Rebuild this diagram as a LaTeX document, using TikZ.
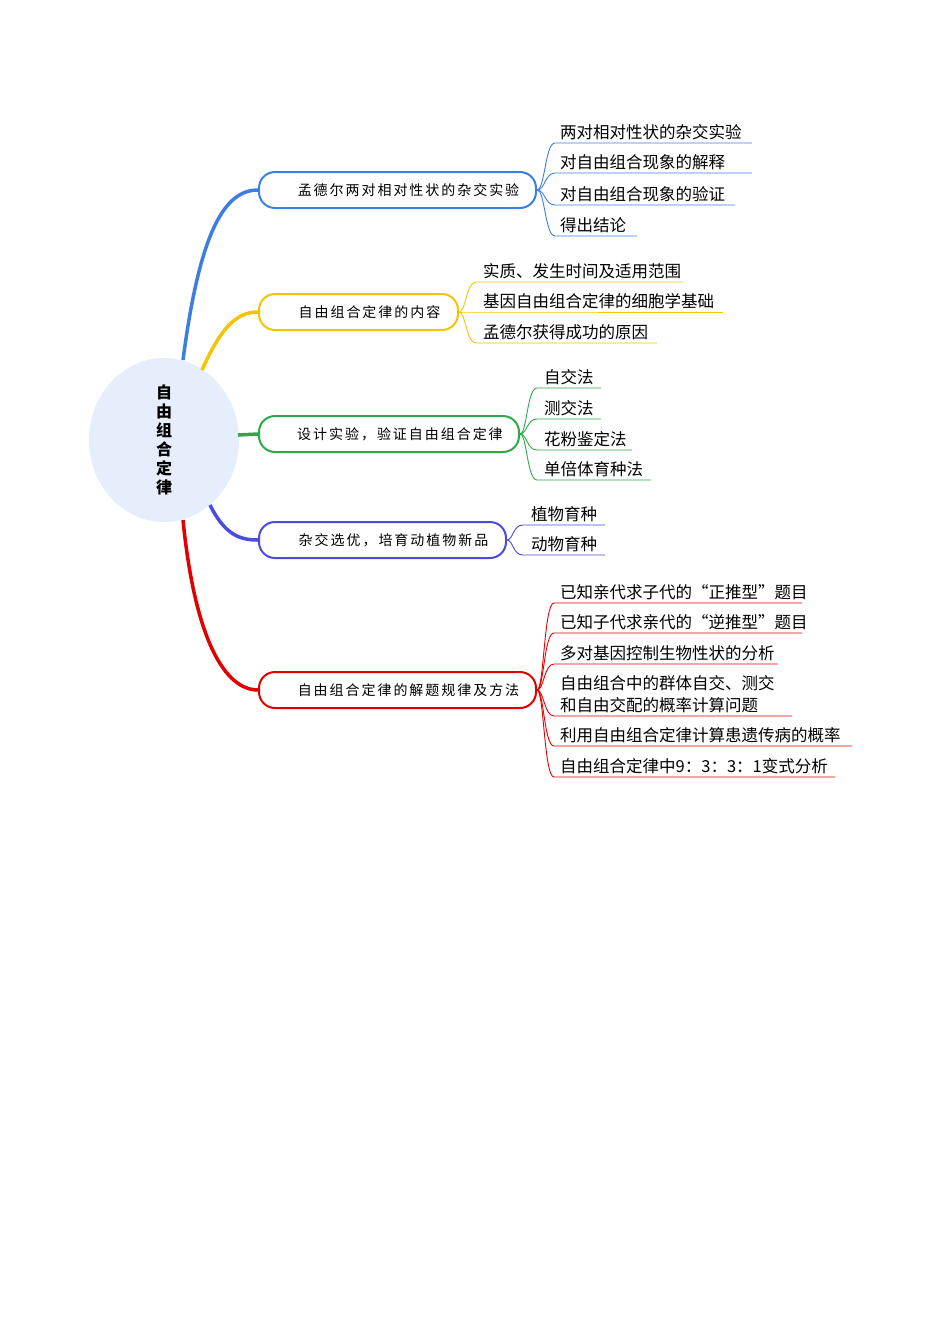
\documentclass[tikz,border=0pt]{standalone}
\usepackage{fontspec}
\usetikzlibrary{shapes.geometric}
\setmainfont{Noto Sans CJK SC}
\newfontfamily\boxfont[LetterSpace=14]{Noto Sans CJK SC}
\begin{document}
\begin{tikzpicture}[x=1pt,y=-1pt,
  br/.style={draw=#1,line width=2pt,rounded corners=16pt,minimum height=36pt,inner sep=0pt,anchor=west,font=\fontsize{14}{16}\boxfont},
  leaf/.style={anchor=west,inner sep=0pt,font=\fontsize{16.5}{22}\selectfont,align=left},
  main/.style={draw=#1,line width=3.5pt},
  sub/.style={draw=#1,line width=0.9pt}]
\useasboundingbox (0,0) rectangle (950,1344);
\definecolor{cb}{HTML}{3C7FE0}\definecolor{cy}{HTML}{F5C400}\definecolor{cg}{HTML}{2DA84A}
\definecolor{cp}{HTML}{4B4BE0}\definecolor{cr}{HTML}{E00000}
\node[ellipse,fill={rgb,255:red,230;green,238;blue,251},minimum width=150pt,minimum height=164pt,inner sep=0pt,
  font=\fontsize{16}{19}\selectfont\bfseries,align=center] (c) at (164,440) {自\\由\\组\\合\\定\\律};
\node[br=cb,minimum width=277pt] (b1) at (258,190) {\hspace{22pt}孟德尔两对相对性状的杂交实验\hfill};
\node[br=cy,minimum width=199pt] (b2) at (258,312) {\hspace{22pt}自由组合定律的内容\hfill};
\node[br=cg,minimum width=260pt] (b3) at (258,434) {\hspace{22pt}设计实验，验证自由组合定律\hfill};
\node[br=cp,minimum width=247pt] (b4) at (258,540) {\hspace{22pt}杂交选优，培育动植物新品\hfill};
\node[br=cr,minimum width=277pt] (b5) at (258,690) {\hspace{22pt}自由组合定律的解题规律及方法\hfill};
\coordinate (s1) at (183,360);\coordinate (s2) at (202,370);\coordinate (s3) at (238,435);
\coordinate (s4) at (210,505);\coordinate (s5) at (183,520);
\draw[main=cb] (s1) .. controls (200,230) and (225,190) .. (b1.west);
\draw[main=cy] (s2) .. controls (220,330) and (235,312) .. (b2.west);
\draw[main=cg] (s3) -- (b3.west);
\draw[main=cp] (s4) .. controls (225,535) and (240,540) .. (b4.west);
\draw[main=cr] (s5) .. controls (195,640) and (225,690) .. (b5.west);
\foreach \n/\tx/\sx/\ly/\ex/\t/\col/\b in {
 l11/560/545/143/752/两对相对性状的杂交实验/cb/b1,
 l12/560/545/173/752/对自由组合现象的解释/cb/b1,
 l13/560/545/205/735/对自由组合现象的验证/cb/b1,
 l14/560/545/236/637/得出结论/cb/b1,
 l21/483/466/282/683/实质、发生时间及适用范围/cy/b2,
 l22/483/466/312/723/基因自由组合定律的细胞学基础/cy/b2,
 l23/483/466/343/657/孟德尔获得成功的原因/cy/b2,
 l31/544/527/388/601/自交法/cg/b3,
 l32/544/527/419/601/测交法/cg/b3,
 l33/544/527/450/632/花粉鉴定法/cg/b3,
 l34/544/527/480/651/单倍体育种法/cg/b3,
 l41/531/513/525/605/植物育种/cp/b4,
 l42/531/513/555/605/动物育种/cp/b4,
 l51/560/544/603/802/已知亲代求子代的“正推型”题目/cr/b5,
 l52/560/544/633/802/已知子代求亲代的“逆推型”题目/cr/b5,
 l53/560/544/664/778/多对基因控制生物性状的分析/cr/b5,
 l54/560/544/716/792/{自由组合中的群体自交、测交\\和自由交配的概率计算问题}/cr/b5,
 l55/560/544/746/852/利用自由组合定律计算患遗传病的概率/cr/b5,
 l56/560/544/777/835/自由组合定律中9：3：3：1变式分析/cr/b5}{
  \coordinate (q) at (\sx,\ly);
  \coordinate (\n s) at (\sx+10,\ly);
  \coordinate (\n e) at (\ex,\ly);
  \node[leaf,anchor=south west,inner sep=0pt,yshift=3pt] (\n) at (\tx,\ly) {\t};
  \draw[sub=\col] (\b.east) .. controls (\b.east -| q) and (q) .. (\n s) -- (\n e);
}
\end{tikzpicture}
\end{document}
